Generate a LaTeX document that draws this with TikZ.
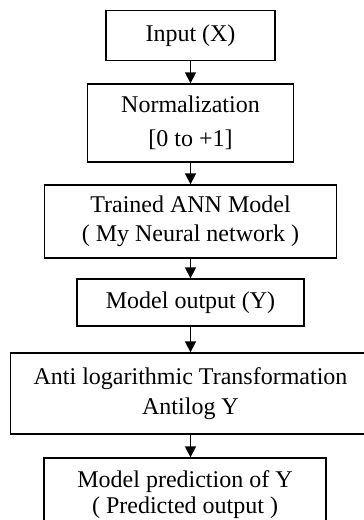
\documentclass[tikz,border=0pt]{standalone}
\usepackage{fontspec}
\setmainfont{Liberation Serif}
\usetikzlibrary{arrows.meta}
\begin{document}
\begin{tikzpicture}[x=1pt,y=-1pt,
  box/.style={draw=black,line width=1.3pt,inner sep=0pt,align=center,
    font=\fontsize{24}{30}\selectfont},
  flow/.style={line width=1.3pt,-{Triangle[length=11pt,width=11pt]}}]
\useasboundingbox (0,0) rectangle (364,520);
\clip (0,0) rectangle (364,520);
\node[box,minimum width=169pt,minimum height=50pt] (a) at (190.5,35.5) {Input (X)};
\node[box,minimum width=206pt,minimum height=78pt,font=\fontsize{24}{34}\selectfont] (b) at (190.5,123) {Normalization\\{}[0 to +1]};
\node[box,minimum width=292pt,minimum height=73pt,font=\fontsize{24}{29}\selectfont] (c) at (190.5,221.5) {Trained ANN Model\\( My Neural network )};
\node[box,minimum width=227pt,minimum height=47pt] (d) at (190.5,302.5) {Model output (Y)};
\node[box,minimum width=360pt,minimum height=81pt] (e) at (190.5,393.5) {Anti logarithmic Transformation\\Antilog Y};
\node[box,minimum width=282pt,minimum height=74pt,font=\fontsize{24}{26}\selectfont] (f) at (185,495) {Model prediction of Y\\( Predicted output )};
\draw[flow] (a.south) -- (b.north);
\draw[flow] (b.south) -- (c.north);
\draw[flow] (c.south) -- (d.north);
\draw[flow] (d.south) -- (e.north);
\draw[flow] (e.south) -- (e.south |- f.north);
\end{tikzpicture}
\end{document}
